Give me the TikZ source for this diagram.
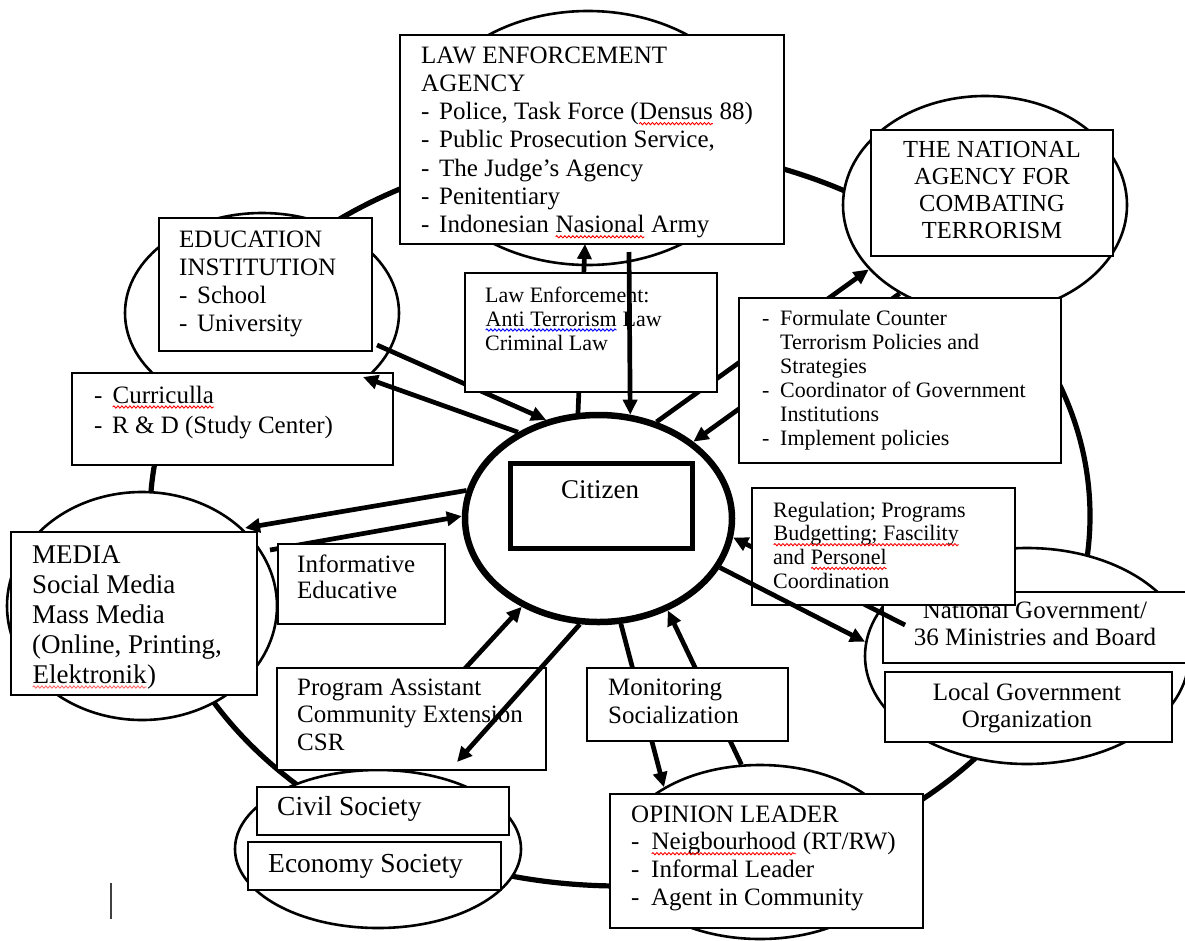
\documentclass[tikz,border=0pt]{standalone}
\usepackage{fontspec}
\setmainfont{Liberation Serif}
\usetikzlibrary{arrows.meta,shapes.geometric,fit,decorations.pathmorphing}
\newcommand\dashitem{\makebox[18pt][l]{-}}
\newcommand\dashindent{\hspace*{18pt}}
\newcommand\spellmark[2]{\tikz[baseline=(sw.base)]{\node[inner sep=0pt, outer sep=0pt, anchor=base] (sw) {#2}; \draw[#1, line width=0.9pt, decorate, decoration={snake, amplitude=1.1pt, segment length=4pt}] ([yshift=-4pt]sw.base west) -- ([yshift=-4pt]sw.base east);}}
\begin{document}
\begin{tikzpicture}[x=1pt,y=-1pt,
  box/.style={draw=black, line width=1.6pt, fill=white, rectangle, inner sep=0pt},
  ell/.style={draw=black, line width=2.6pt, fill=white, ellipse, inner sep=0pt},
  arr/.style={line width=4.7pt, -{Triangle[length=15pt,width=14pt]}},
  txt/.style={align=left, anchor=base west, inner sep=0pt},
  ctxt/.style={align=center, anchor=base, inner sep=0pt},
  fA/.style={font=\fontsize{25pt}{28.3pt}\selectfont},
  fB/.style={font=\fontsize{22pt}{24pt}\selectfont},
  fC/.style={font=\fontsize{27pt}{30pt}\selectfont}
]
\fill[white] (0,0) rectangle (1185,940);
\useasboundingbox (0,0) rectangle (1185,940);

% outer ring
\node[draw=black, line width=5.2pt, ellipse, inner sep=0pt, minimum width=940pt, minimum height=740pt] (ring) at (620,516) {};

% entity ellipses
\node[ell, minimum width=340pt, minimum height=254pt] (lawell) at (588,138) {};
\node[ell, minimum width=284pt, minimum height=218pt] (agell) at (985,205) {};
\node[ell, minimum width=274pt, minimum height=200pt] (eduell) at (262,313) {};
\node[ell, minimum width=270pt, minimum height=228pt] (medell) at (142,606) {};
\node[ell, minimum width=286pt, minimum height=158pt] (civell) at (378,849) {};
\node[ell, minimum width=280pt, minimum height=174pt] (opell) at (760,852) {};
\node[ell, minimum width=324pt, minimum height=216pt] (govell) at (1027,656) {};
\node[ell, line width=6.5pt, minimum width=267pt, minimum height=207pt] (cit) at (598.5,518.5) {};

% main boxes (text nodes are anchored at the baseline of their last line)
\node[box, fit={(400,35) (784,244)}] (lawbox) {};
\node[txt, fA] (lawtxt) at (421,232.8) {LAW ENFORCEMENT\\AGENCY\\\dashitem Police, Task Force (\spellmark{red}{Densus} 88)\\\dashitem Public Prosecution Service,\\\dashitem The Judge’s Agency\\\dashitem Penitentiary\\\dashitem Indonesian \spellmark{red}{Nasional} Army};

\node[box, fit={(159,218) (372,351)}] (edubox) {};
\node[txt, fA] (edutxt) at (179,331.9) {EDUCATION\\INSTITUTION\\\dashitem School\\\dashitem University};

\node[box, fit={(72,373) (393,465)}] (curbox) {};
\node[txt, font=\fontsize{25pt}{30pt}\selectfont] (curtxt) at (94,433) {\dashitem \spellmark{red}{Curriculla}\\\dashitem R \& D (Study Center)};

\node[box, fit={(871,130) (1113,256)}] (agbox) {};
\node[ctxt, font=\fontsize{24.5pt}{27pt}\selectfont] (agtxt) at (992,238) {THE NATIONAL\\AGENCY FOR\\COMBATING\\TERRORISM};

\node[box, fit={(11,532) (257,695)}] (medbox) {};
\node[txt, fC] (medtxt) at (32,683) {MEDIA\\Social Media\\Mass Media\\(Online, Printing,\\\spellmark{red!60}{Elektronik})};

\node[box, fit={(257,787) (509,835)}] (civbox) {};
\node[txt, font=\fontsize{27.5pt}{30pt}\selectfont] (civtxt) at (277,815) {Civil Society};
\node[box, fit={(248,842) (501,890)}] (ecobox) {};
\node[txt, font=\fontsize{27.5pt}{30pt}\selectfont] (ecotxt) at (268,872) {Economy Society};

\node[box, fit={(610,794) (923,928)}] (opbox) {};
\node[txt, font=\fontsize{25pt}{27.7pt}\selectfont] (optxt) at (631,905.1) {OPINION LEADER\\\makebox[20pt][l]{-}\spellmark{red}{Neigbourhood} (RT/RW)\\\makebox[20pt][l]{-}Informal Leader\\\makebox[20pt][l]{-}Agent in Community};

\node[box, fit={(883,592) (1192,663)}] (govbox) {};
\node[ctxt, font=\fontsize{25pt}{27pt}\selectfont] (govtxt) at (1035,645) {National Government/\\36 Ministries and Board};

\node[box, fit={(885,672) (1172,742)}] (locbox) {};
\node[ctxt, font=\fontsize{25pt}{27pt}\selectfont] (loctxt) at (1027,727) {Local Government\\Organization};

% free ends of connectors
\coordinate (a1e) at (585,244);
\coordinate (a2s) at (629,252);
\coordinate (a3s) at (377,345);
\coordinate (a4e) at (363,377);
\coordinate (a7e) at (245,528);
\coordinate (a8s) at (270,550);
\coordinate (a9s) at (436,700);
\coordinate (a10e) at (457,762);
\coordinate (a14s) at (905,625);

% connectors partly hidden behind label boxes
\draw[arr] (cit.101.2) -- (a1e);
\draw[arr] (cit.59.4) -- (agell.209.1);
\draw[arr] (agell.226.7) -- (cit.39.2);
\draw[arr] (a8s) -- (cit.179.4);
\draw[arr] (a9s) -- (cit.229.8);
\draw[arr] (cit.282.8) -- (opell.146.2);
\draw[arr] (opell.102) -- (cit.307.7);
\draw[arr] (a14s) -- (cit.352.9);
\draw[arr] (a3s) -- (cit.118.1);
\draw[arr] (cit.133.5) -- (a4e);
\draw[arr] (cit.168.1) -- (a7e);

% label boxes
\node[box, fit={(465,273) (717,392)}] (lblbox) {};
\node[txt, fB] (lbltxt) at (485,350) {Law Enforcement:\\\spellmark{blue}{Anti Terrorism} Law\\Criminal Law};

\node[box, fit={(739,298) (1061,463)}] (formbox) {};
\node[txt, fB] (formtxt) at (762,445) {\dashitem Formulate Counter\\\dashindent Terrorism Policies and\\\dashindent Strategies\\\dashitem Coordinator of Government\\\dashindent Institutions\\\dashitem Implement policies};

\node[box, fit={(278,544) (445,624)}] (infobox) {};
\node[txt, font=\fontsize{25pt}{26pt}\selectfont] (infotxt) at (297,598) {Informative\\Educative};

\node[box, fit={(277,668) (546,770)}] (progbox) {};
\node[txt, font=\fontsize{25pt}{27.5pt}\selectfont] (progtxt) at (297,750) {Program Assistant\\Community Extension\\CSR};

\node[box, fit={(587,668) (788,741)}] (monbox) {};
\node[txt, font=\fontsize{25pt}{28pt}\selectfont] (montxt) at (608,723) {Monitoring\\Socialization};

\node[box, fit={(752,488) (1015,605)}] (regbox) {};
\node[txt, font=\fontsize{22pt}{23.7pt}\selectfont] (regtxt) at (773,588.1) {Regulation; Programs\\\spellmark{red}{Budgetting; Fascility}\\and \spellmark{red}{Personel}\\Coordination};

% connectors drawn over the label boxes
\draw[arr] (a2s) -- (cit.73.6);
\draw[arr] (cit.260.1) -- (a10e);
\draw[arr] (cit.338.2) -- (govell.175);

% citizen box
\node[draw=black, line width=5pt, fill=white, rectangle, inner sep=0pt, fit={(510,463) (692,548)}] (citbox) {};
\node[ctxt, font=\fontsize{27pt}{30pt}\selectfont] (cittxt) at (600,498) {Citizen};

% text cursor mark
\draw[line width=1.8pt, black!75] (111,883) -- (111,919);
\end{tikzpicture}
\end{document}
